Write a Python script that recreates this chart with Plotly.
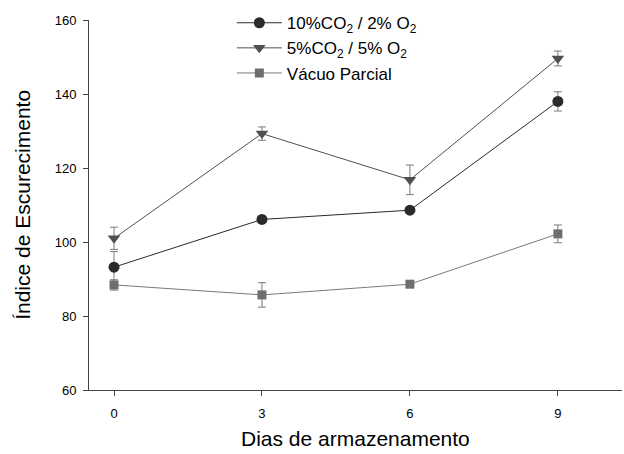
import plotly.graph_objects as go

# Storage days and browning index per atmosphere (mean and standard error)
dias = [0, 3, 6, 9]

co2_10_o2_2 = [93.2, 106.1, 108.6, 138.0]
co2_10_o2_2_err = [4.2, 0.8, 0.7, 2.6]

co2_5_o2_5 = [101.0, 129.3, 116.8, 149.6]
co2_5_o2_5_err = [3.0, 1.8, 4.0, 2.0]

vacuo_parcial = [88.4, 85.7, 88.6, 102.2]
vacuo_parcial_err = [1.4, 3.3, 0.8, 2.4]

series_names = [
    "10%CO<sub>2</sub> / 2% O<sub>2</sub>",
    "5%CO<sub>2</sub> / 5% O<sub>2</sub>",
    "Vácuo Parcial",
]

x_ticks = [0, 3, 6, 9]
y_ticks = [60, 80, 100, 120, 140, 160]

FONT = "Liberation Sans, Arial, sans-serif"

fig = go.Figure()

styles = [
    (co2_10_o2_2, co2_10_o2_2_err, "circle", "#2b2b2b", "#2b2b2b", 11),
    (co2_5_o2_5, co2_5_o2_5_err, "triangle-down", "#505050", "#505050", 11),
    (vacuo_parcial, vacuo_parcial_err, "square", "#6e6e6e", "#7a7a7a", 9),
]

for (vals, errs, sym, mcol, lcol, msize), name in zip(styles, series_names):
    fig.add_trace(go.Scatter(
        x=dias, y=vals, name=name, mode="lines+markers",
        line=dict(color=lcol, width=1),
        marker=dict(symbol=sym, size=msize, color=mcol, line=dict(width=0)),
        error_y=dict(type="data", array=errs, visible=True,
                     color="#7a7a7a", thickness=1, width=4),
    ))

fig.update_layout(
    width=624, height=454,
    margin=dict(l=89, r=2, t=20, b=64),
    paper_bgcolor="white", plot_bgcolor="white",
    font=dict(family=FONT, color="black"),
    showlegend=True,
    legend=dict(
        x=0.268, y=1.04, xanchor="left", yanchor="top",
        font=dict(family=FONT, size=17, color="black"),
        bgcolor="rgba(0,0,0,0)", itemwidth=45, tracegroupgap=0,
    ),
    xaxis=dict(
        range=[-0.507, 10.3], tickvals=x_ticks, ticktext=[str(v) for v in x_ticks],
        showline=True, linecolor="#444", linewidth=1, showgrid=False, zeroline=False,
        ticks="outside", ticklen=5, tickcolor="#444", tickwidth=1,
        ticklabelstandoff=6,
        tickfont=dict(family=FONT, size=13, color="black"),
    ),
    yaxis=dict(
        range=[60, 160], tickvals=y_ticks,
        showline=True, linecolor="#444", linewidth=1, showgrid=False, zeroline=False,
        ticks="outside", ticklen=5, tickcolor="#444", tickwidth=1,
        ticklabelstandoff=4,
        tickfont=dict(family=FONT, size=13, color="black"),
    ),
    annotations=[
        dict(text="Dias de armazenamento", xref="paper", yref="paper",
             x=0.5, y=-0.13, xanchor="center", yanchor="middle", showarrow=False,
             font=dict(family=FONT, size=21, color="black")),
        dict(text="Índice de Escurecimento", xref="paper", yref="paper",
             x=-0.126, y=0.5, xanchor="center", yanchor="middle", showarrow=False,
             textangle=-90, font=dict(family=FONT, size=21, color="black")),
    ],
)

fig.write_html("out.html")
